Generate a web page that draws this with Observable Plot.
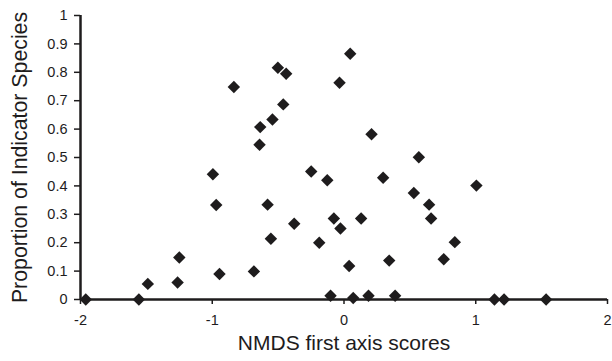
<!DOCTYPE html>
<html>
<head>
<meta charset="utf-8">
<script src="https://cdn.jsdelivr.net/npm/d3@7"></script>
<script src="https://cdn.jsdelivr.net/npm/@observablehq/plot@0.6"></script>
<style>
  html, body { margin: 0; padding: 0; background: #fff; }
</style>
</head>
<body>
<div id="chart"></div>
<script>
const nmdsX = [-1.96, -1.557, -1.489, -1.263, -1.25, -0.995, -0.97, -0.945, -0.836, -0.684,
  -0.641, -0.636, -0.58, -0.555, -0.543, -0.502, -0.461, -0.439, -0.378, -0.249,
  -0.188, -0.127, -0.102, -0.077, -0.034, -0.027, 0.039, 0.047, 0.07, 0.13,
  0.186, 0.209, 0.297, 0.343, 0.388, 0.53, 0.568, 0.646, 0.661, 0.757,
  0.841, 1.005, 1.142, 1.215, 1.534];
const proportion = [0, 0, 0.055, 0.06, 0.148, 0.441, 0.333, 0.09, 0.748, 0.099,
  0.545, 0.607, 0.334, 0.214, 0.634, 0.816, 0.687, 0.795, 0.267, 0.451,
  0.2, 0.42, 0.013, 0.285, 0.763, 0.25, 0.118, 0.865, 0.005, 0.285,
  0.013, 0.582, 0.429, 0.137, 0.013, 0.375, 0.501, 0.334, 0.285, 0.142,
  0.202, 0.401, 0, 0, 0];
const xTicks = [-2, -1, 0, 1, 2];
const yTicks = [0, 0.1, 0.2, 0.3, 0.4, 0.5, 0.6, 0.7, 0.8, 0.9, 1];
const xTitle = "NMDS first axis scores";
const yTitle = "Proportion of Indicator Species";

const data = nmdsX.map((x, i) => ({x, y: proportion[i]}));
const ink = "#1e1c1d";

const chart = Plot.plot({
  width: 612,
  height: 361,
  marginLeft: 80,
  marginRight: 5,
  marginTop: 15,
  marginBottom: 62,
  style: {fontFamily: "'Liberation Sans', Arial, sans-serif", color: ink, background: "#fff"},
  x: {domain: [-2, 2]},
  y: {domain: [0, 1]},
  marks: [
    Plot.axisY({ticks: yTicks, tickFormat: d => String(d), tickSize: 6, tickPadding: 7, fontSize: 14.5, label: null, stroke: ink, strokeWidth: 1.5}),
    Plot.axisX({ticks: xTicks, tickFormat: d => String(d), tickSize: 5, tickPadding: 10, fontSize: 14.5, label: null, stroke: ink, strokeWidth: 1.5}),
    Plot.ruleX([-2], {stroke: ink, strokeWidth: 2.5}),
    Plot.ruleY([0], {stroke: ink, strokeWidth: 2.5}),
    Plot.dot(data, {x: "x", y: "y", symbol: "diamond2", r: 5.6, fill: ink, stroke: null}),
    Plot.text([xTitle], {frameAnchor: "bottom", dy: 50, fontSize: 21, fill: ink}),
    Plot.text([yTitle], {frameAnchor: "left", textAnchor: "middle", dx: -60, rotate: -90, fontSize: 21.3, fill: ink})
  ]
});
document.getElementById("chart").appendChild(chart);
</script>
</body>
</html>
